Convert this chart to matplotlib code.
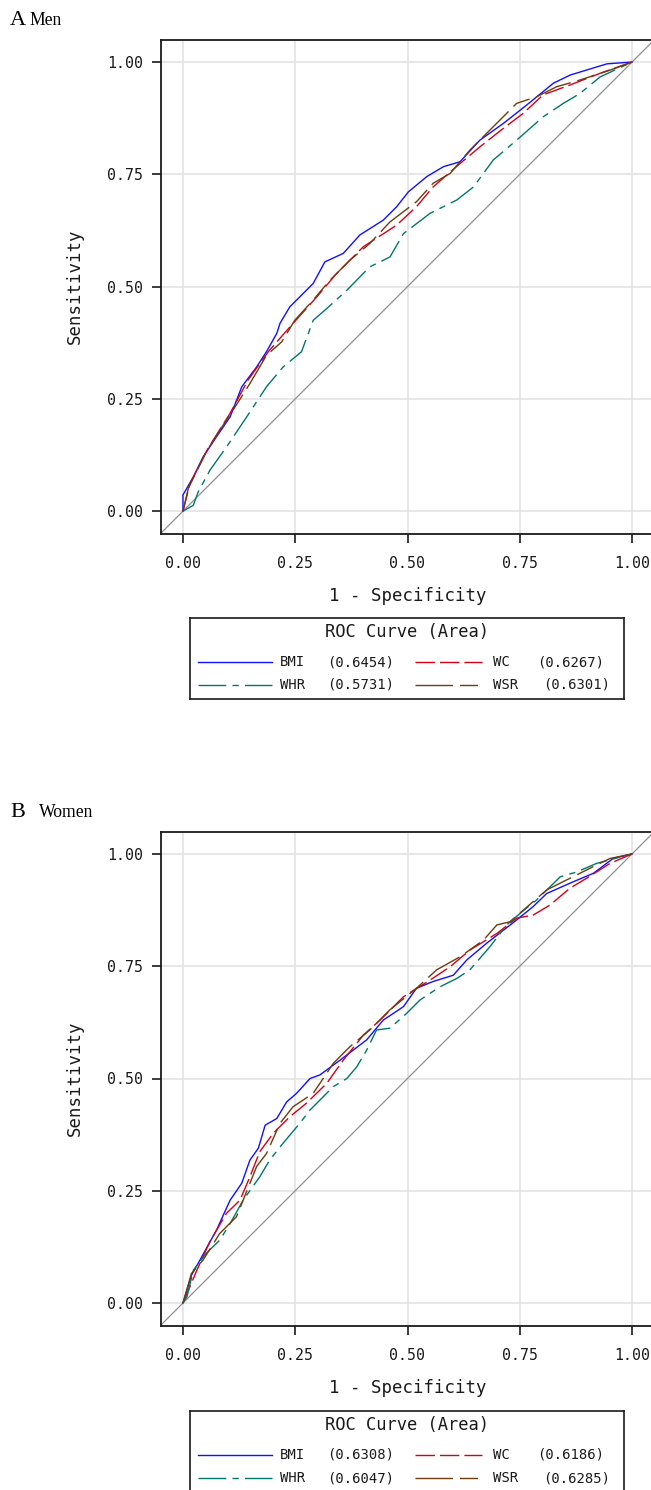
"""
plot.py
-------
Curvas ROC (hombres / mujeres) para BMI, WC, WHR y WSR.
"""

import matplotlib
matplotlib.use("Agg")
import matplotlib.pyplot as plt

W, H = 651, 1490

# ---------------------------------------------------------------------------
# Datos (1 - especificidad, sensibilidad)
# ---------------------------------------------------------------------------
men_bmi_x = [0, 0.0, 0.023, 0.045, 0.075, 0.105, 0.131, 0.164, 0.186, 0.209, 0.216, 0.238,
             0.268, 0.290, 0.316, 0.357, 0.394, 0.446, 0.476, 0.502, 0.543, 0.580, 0.617,
             0.661, 0.713, 0.765, 0.825, 0.862, 0.944, 1]
men_bmi_y = [0, 0.036, 0.076, 0.121, 0.166, 0.210, 0.277, 0.321, 0.355, 0.396, 0.418, 0.455,
             0.485, 0.507, 0.555, 0.574, 0.615, 0.648, 0.678, 0.711, 0.745, 0.767, 0.778,
             0.826, 0.863, 0.904, 0.953, 0.971, 0.996, 1]

men_wc_x = [0, 0.016, 0.056, 0.105, 0.145, 0.190, 0.238, 0.298, 0.342, 0.402, 0.476, 0.520,
            0.557, 0.617, 0.661, 0.713, 0.758, 0.802, 0.862, 0.929, 1]
men_wc_y = [0, 0.062, 0.140, 0.218, 0.292, 0.355, 0.410, 0.477, 0.529, 0.589, 0.637, 0.678,
            0.722, 0.774, 0.811, 0.852, 0.886, 0.927, 0.949, 0.975, 1]

men_whr_x = [0, 0.023, 0.034, 0.060, 0.097, 0.142, 0.186, 0.223, 0.264, 0.290, 0.320, 0.365,
             0.416, 0.461, 0.491, 0.550, 0.610, 0.647, 0.691, 0.743, 0.802, 0.847, 0.884,
             0.929, 1]
men_whr_y = [0, 0.013, 0.043, 0.091, 0.143, 0.210, 0.277, 0.321, 0.355, 0.425, 0.451, 0.492,
             0.544, 0.566, 0.618, 0.663, 0.693, 0.722, 0.782, 0.826, 0.878, 0.908, 0.930,
             0.967, 1]

men_wsr_x = [0, 0.012, 0.052, 0.082, 0.116, 0.149, 0.186, 0.220, 0.249, 0.290, 0.327, 0.372,
             0.416, 0.461, 0.520, 0.557, 0.595, 0.639, 0.669, 0.706, 0.743, 0.788, 0.832,
             0.884, 0.951, 1]
men_wsr_y = [0, 0.051, 0.132, 0.180, 0.232, 0.284, 0.347, 0.377, 0.425, 0.470, 0.514, 0.559,
             0.596, 0.644, 0.689, 0.730, 0.752, 0.804, 0.834, 0.871, 0.908, 0.923, 0.945,
             0.960, 0.982, 1]

women_bmi_x = [0, 0.019, 0.038, 0.075, 0.105, 0.131, 0.149, 0.168, 0.183, 0.209, 0.231,
               0.253, 0.283, 0.305, 0.350, 0.409, 0.446, 0.491, 0.520, 0.557, 0.602, 0.632,
               0.676, 0.743, 0.780, 0.810, 0.869, 0.914, 0.958, 1]
women_bmi_y = [0, 0.062, 0.096, 0.163, 0.229, 0.267, 0.318, 0.345, 0.396, 0.411, 0.448,
               0.467, 0.500, 0.508, 0.541, 0.586, 0.630, 0.660, 0.701, 0.716, 0.730, 0.764,
               0.801, 0.853, 0.883, 0.912, 0.938, 0.957, 0.990, 1]

women_wc_x = [0, 0.031, 0.060, 0.097, 0.127, 0.149, 0.171, 0.201, 0.238, 0.275, 0.320,
              0.357, 0.402, 0.439, 0.491, 0.550, 0.595, 0.639, 0.699, 0.743, 0.780, 0.817,
              0.862, 0.899, 0.951, 1]
women_wc_y = [0, 0.073, 0.137, 0.200, 0.229, 0.281, 0.337, 0.378, 0.415, 0.445, 0.489,
              0.541, 0.597, 0.630, 0.682, 0.719, 0.749, 0.786, 0.823, 0.857, 0.864, 0.886,
              0.924, 0.946, 0.979, 1]

women_whr_x = [0, 0.009, 0.023, 0.052, 0.082, 0.105, 0.134, 0.171, 0.193, 0.223, 0.260,
               0.283, 0.335, 0.365, 0.387, 0.409, 0.431, 0.461, 0.498, 0.528, 0.572, 0.610,
               0.639, 0.684, 0.721, 0.751, 0.788, 0.840, 0.877, 0.921, 1]
women_whr_y = [0, 0.014, 0.073, 0.111, 0.140, 0.177, 0.229, 0.281, 0.318, 0.356, 0.400,
               0.430, 0.482, 0.500, 0.526, 0.563, 0.608, 0.612, 0.645, 0.675, 0.704, 0.723,
               0.742, 0.794, 0.842, 0.868, 0.898, 0.949, 0.960, 0.979, 1]

women_wsr_x = [0, 0.019, 0.045, 0.082, 0.119, 0.134, 0.164, 0.186, 0.216, 0.245, 0.290,
               0.335, 0.372, 0.416, 0.461, 0.520, 0.565, 0.617, 0.669, 0.699, 0.728, 0.758,
               0.810, 0.854, 0.914, 0.951, 1]
women_wsr_y = [0, 0.066, 0.096, 0.155, 0.192, 0.229, 0.304, 0.333, 0.400, 0.437, 0.467,
               0.534, 0.571, 0.608, 0.653, 0.701, 0.742, 0.771, 0.808, 0.842, 0.849, 0.875,
               0.920, 0.942, 0.972, 0.990, 1]

nombres = ["BMI", "WC", "WHR", "WSR"]
areas_men = ["0.6454", "0.6267", "0.5731", "0.6301"]
areas_women = ["0.6308", "0.6186", "0.6047", "0.6285"]
ticks = [0, 0.25, 0.50, 0.75, 1.00]

# Estilo de cada variable (color, patron de guiones en puntos)
ESTILOS = {
    "BMI": ("#1010ff", None),
    "WC": ("#d4001a", (14, 3.6)),
    "WHR": ("#00776c", (20, 4.5, 4.5, 4.5)),
    "WSR": ("#6e3c0c", (27, 5, 13, 5)),
}

plt.rcParams["font.family"] = ["DejaVu Sans Mono"]
plt.rcParams["lines.scale_dashes"] = False


def _rect(left, top, width, height):
    """Rectangulo en pixeles (desde arriba-izquierda) -> fraccion de figura."""
    return [left / W, 1 - (top + height) / H, width / W, height / H]


def dibujar_panel(fig, top, curvas, letra, titulo, y_titulo):
    ax = fig.add_axes(_rect(160.5, top, 494, 494))
    ax.set_xlim(-0.05, 1.05)
    ax.set_ylim(-0.05, 1.05)
    ax.grid(color="#e3e3e3", lw=1.2)
    ax.set_axisbelow(True)
    ax.axline((0, 0), (1, 1), color="#8f8f8f", lw=0.9, zorder=1)

    for nombre in nombres:
        x, y = curvas[nombre]
        color, dashes = ESTILOS[nombre]
        if dashes is None:
            ax.plot(x, y, color=color, lw=1.0, zorder=2)
        else:
            ax.plot(x, y, color=color, lw=1.0, dashes=dashes, zorder=2)

    ax.set_xticks(ticks)
    ax.set_yticks(ticks)
    ax.set_xticklabels([f"{t:.2f}" for t in ticks])
    ax.set_yticklabels([f"{t:.2f}" for t in ticks])
    ax.tick_params(direction="out", length=6.5, width=1.2, labelsize=10.7,
                   colors="#1a1a1a")
    ax.tick_params(axis="x", pad=9.5)
    ax.tick_params(axis="y", pad=5.8)
    for lado in ("left", "bottom", "top"):
        ax.spines[lado].set_linewidth(1.3)
        ax.spines[lado].set_color("#1a1a1a")
    ax.spines["right"].set_visible(False)

    ax.text(0.5, -0.1265, "1 - Specificity", transform=ax.transAxes,
            ha="center", va="center", fontsize=12.5, color="#1a1a1a")
    ax.text(-0.173, 0.5, "Sensitivity", transform=ax.transAxes, rotation=90,
            ha="center", va="center", fontsize=12.5, color="#1a1a1a")

    fig.text(10 / W, 1 - y_titulo / H, letra, family="Liberation Serif",
             fontsize=16, va="baseline")
    fig.text((29 if letra == "A" else 39) / W, 1 - y_titulo / H, titulo,
             family="Liberation Serif", fontsize=12.7, va="baseline")
    return ax


def dibujar_leyenda(fig, top, areas):
    w, h = 434, 81
    ax = fig.add_axes(_rect(190, top, w, h))
    ax.set_xlim(0, w)
    ax.set_ylim(h, 0)
    ax.set_xticks([])
    ax.set_yticks([])
    for s in ax.spines.values():
        s.set_linewidth(1.2)
        s.set_color("#1a1a1a")

    ax.text(w / 2, 14, "ROC Curve (Area)", ha="center", va="center",
            fontsize=12.3, color="#1a1a1a")
    filas = [44, 67]
    posiciones = [(8, 82, 90, 137), (225, 292, 303, 347)]
    for i, nombre in enumerate(nombres):
        fila = filas[i // 2]
        x0, x1, xt, xv = posiciones[i % 2]
        if nombre == "WSR":
            xv += 6
        color, dashes = ESTILOS[nombre]
        if dashes is None:
            ax.plot([x0, x1], [fila, fila], color=color, lw=1.0)
        else:
            ax.plot([x0, x1], [fila, fila], color=color, lw=1.0, dashes=dashes)
        ax.text(xt, fila, nombre, va="center", fontsize=10, color="#1a1a1a")
        ax.text(xv, fila, f"({areas[i]})", va="center", fontsize=10, color="#1a1a1a")


fig = plt.figure(figsize=(W / 100, H / 100), dpi=100)

curvas_men = {
    "BMI": (men_bmi_x, men_bmi_y),
    "WC": (men_wc_x, men_wc_y),
    "WHR": (men_whr_x, men_whr_y),
    "WSR": (men_wsr_x, men_wsr_y),
}
curvas_women = {
    "BMI": (women_bmi_x, women_bmi_y),
    "WC": (women_wc_x, women_wc_y),
    "WHR": (women_whr_x, women_whr_y),
    "WSR": (women_wsr_x, women_wsr_y),
}

dibujar_panel(fig, 39.6, curvas_men, "A", "Men", 25)
dibujar_leyenda(fig, 618, areas_men)
dibujar_panel(fig, 831.5, curvas_women, "B", "Women", 817)
dibujar_leyenda(fig, 1411, areas_women)

fig.savefig("out.png", dpi=100)
plt.close(fig)
